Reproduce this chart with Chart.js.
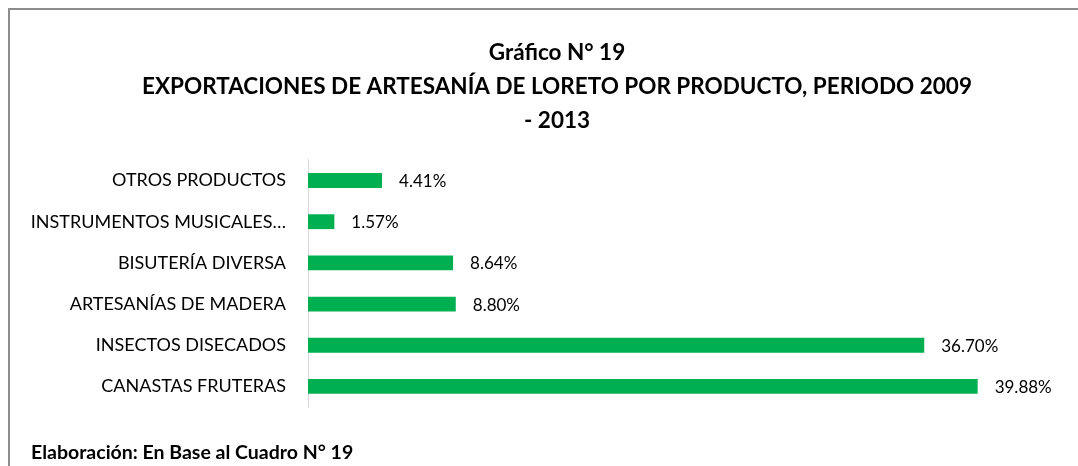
<!DOCTYPE html>
<html>
<head>
<meta charset="utf-8">
<script src="https://cdn.jsdelivr.net/npm/chart.js@4"></script>
<style>
  body { margin: 0; background: #fff; overflow: hidden; }
  #frame {
    position: absolute; left: 8px; top: 8px; width: 1110px; height: 500px;
    border: 2px solid #8c8c8c; box-sizing: border-box;
  }
  /* the chart frame runs past the right edge of the window, as in the original */
  #wrap { position: absolute; left: 0; top: 0; width: 1114px; height: 466px; }
  #footer {
    position: absolute; left: 31px; top: 440px;
    font: bold 19.5px Lato, sans-serif; color: #000;
  }
</style>
</head>
<body>
<div id="frame"></div>
<div id="wrap"><canvas id="chart"></canvas></div>
<div id="footer">Elaboración: En Base al Cuadro N° 19</div>
<script>
// data
const categories = [
  "OTROS PRODUCTOS",
  "INSTRUMENTOS MUSICALES…",
  "BISUTERÍA DIVERSA",
  "ARTESANÍAS DE MADERA",
  "INSECTOS DISECADOS",
  "CANASTAS FRUTERAS",
];
const shares = [4.41, 1.57, 8.64, 8.8, 36.7, 39.88];
const titleLines = [
  "Gráfico N° 19",
  "EXPORTACIONES DE ARTESANÍA DE LORETO POR PRODUCTO, PERIODO 2009",
  "- 2013",
];

const FONT = "Lato, sans-serif";

// value labels at bar ends
const barLabels = {
  id: "barLabels",
  afterDatasetsDraw(chart) {
    const ctx = chart.ctx;
    const meta = chart.getDatasetMeta(0);
    ctx.save();
    ctx.font = "17px " + FONT;
    ctx.fillStyle = "#000";
    ctx.textBaseline = "middle";
    ctx.textAlign = "left";
    meta.data.forEach((bar, i) => {
      ctx.fillText(shares[i].toFixed(2) + "%", bar.x + 17, bar.y + 1);
    });
    ctx.restore();
  },
};

new Chart(document.getElementById("chart"), {
  type: "bar",
  data: {
    labels: categories,
    datasets: [
      {
        data: shares,
        backgroundColor: "#00B050",
        barPercentage: 0.72,
        categoryPercentage: 0.5,
      },
    ],
  },
  options: {
    indexAxis: "y",
    responsive: true,
    maintainAspectRatio: false,
    animation: false,
    layout: { padding: { left: 0, right: 0, top: 0, bottom: 59 } },
    plugins: {
      legend: { display: false },
      tooltip: { enabled: false },
      title: {
        display: true,
        text: titleLines,
        color: "#000",
        font: { family: FONT, size: 22.5, weight: "bold", lineHeight: 1.51 },
        padding: { top: 36, bottom: 22 },
      },
    },
    scales: {
      x: {
        display: false,
        min: 0,
        max: 48,
      },
      y: {
        grid: { display: false, drawTicks: false },
        border: { display: true, color: "#d9d9d9", width: 1 },
        ticks: { color: "#000", font: { family: FONT, size: 18 }, padding: 22 },
        afterFit(scale) {
          scale.width = 308;
        },
      },
    },
  },
  plugins: [barLabels],
});
</script>
</body>
</html>
